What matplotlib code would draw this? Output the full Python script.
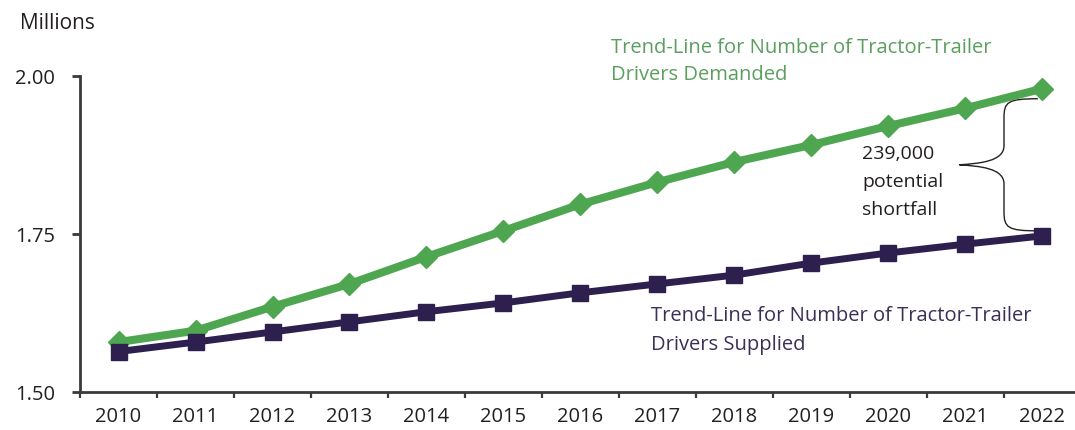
import matplotlib
matplotlib.use("Agg")
import matplotlib.pyplot as plt
from matplotlib.path import Path
from matplotlib.patches import PathPatch
import numpy as np

years = ["2010", "2011", "2012", "2013", "2014", "2015", "2016",
         "2017", "2018", "2019", "2020", "2021", "2022"]
demanded = [1.579, 1.597, 1.635, 1.671, 1.714, 1.755, 1.797,
            1.832, 1.864, 1.891, 1.921, 1.949, 1.980]
supplied = [1.564, 1.579, 1.595, 1.611, 1.627, 1.641, 1.657,
            1.671, 1.685, 1.704, 1.720, 1.734, 1.747]
y_ticks = [1.50, 1.75, 2.00]
y_tick_labels = ["1.50", "1.75", "2.00"]
demanded_label = "Trend-Line for Number of Tractor-Trailer\nDrivers Demanded"
supplied_label = "Trend-Line for Number of Tractor-Trailer\nDrivers Supplied"
shortfall_label = "239,000\npotential\nshortfall"
unit_label = "Millions"

plt.rcParams['font.family'] = ['Open Sans', 'DejaVu Sans']

GREEN = "#4ea651"
GREEN_TXT = "#5a9f5e"
PURPLE = "#2d1f4e"
PURPLE_TXT = "#3b2f57"
AXIS = "#3a3a3a"
TXT = "#231f20"

W, H = 1075, 431
fig = plt.figure(figsize=(W / 100, H / 100), dpi=100)
ax = fig.add_axes([80 / W, 38 / H, 1001 / W, 316 / H])

x = np.arange(len(years))
ax.plot(x, demanded, color=GREEN, lw=5.8, marker='D', ms=11,
        mec=GREEN, mfc=GREEN, zorder=3, solid_joinstyle='round')
ax.plot(x, supplied, color=PURPLE, lw=5.0, marker='s', ms=11,
        mec=PURPLE, mfc=PURPLE, zorder=4)

ax.set_xlim(-0.5, len(years) - 0.5)
ax.set_ylim(y_ticks[0], y_ticks[-1])

for s in ['top', 'right']:
    ax.spines[s].set_visible(False)
for s in ['left', 'bottom']:
    ax.spines[s].set_color(AXIS)
    ax.spines[s].set_linewidth(2.0)

ax.set_yticks(y_ticks)
ax.set_yticklabels(y_tick_labels)
ax.tick_params(axis='y', direction='out', length=6, width=2.0,
               color=AXIS, pad=12, labelsize=14.5, labelcolor=TXT)

ax.set_xticks(np.arange(len(years)) - 0.5)
ax.set_xticklabels([])
ax.tick_params(axis='x', which='major', direction='out', length=4,
               width=1.6, color=AXIS)
ax.set_xticks(x, minor=True)
ax.set_xticklabels(years, minor=True)
ax.tick_params(axis='x', which='minor', length=0, pad=10,
               labelsize=14.5, labelcolor=TXT)

fig.text(20 / W, 1 - 29 / H, unit_label, fontsize=15, color=TXT,
         va='baseline', ha='left')

ax.text(6.4, 2.062, demanded_label, fontsize=14.5, color=GREEN_TXT,
        ha='left', va='top', linespacing=1.5, clip_on=False)
ax.text(6.92, 1.638, supplied_label, fontsize=14.5, color=PURPLE_TXT,
        ha='left', va='top', linespacing=1.6)

# curly brace between final values
top = demanded[-1] - 0.016
bot = supplied[-1] + 0.008
mid = (top + bot) / 2
xe, xv, xt = len(years) - 1 - 0.06, len(years) - 1 - 0.5, len(years) - 1 - 1.08
verts = [
    (xe, top),
    (xv + 0.05, top), (xv, top - 0.005), (xv, top - 0.03),
    (xv, mid + 0.03),
    (xv, mid + 0.005), (xt + 0.25, mid + 0.002), (xt, mid),
    (xt + 0.25, mid - 0.002), (xv, mid - 0.005), (xv, mid - 0.03),
    (xv, bot + 0.03),
    (xv, bot + 0.005), (xv + 0.05, bot), (xe, bot),
]
codes = [Path.MOVETO,
         Path.CURVE4, Path.CURVE4, Path.CURVE4,
         Path.LINETO,
         Path.CURVE4, Path.CURVE4, Path.CURVE4,
         Path.CURVE4, Path.CURVE4, Path.CURVE4,
         Path.LINETO,
         Path.CURVE4, Path.CURVE4, Path.CURVE4]
ax.add_patch(PathPatch(Path(verts, codes), fill=False, ec="#222222",
                       lw=1.0, zorder=2))

ax.text(9.66, 1.892, shortfall_label, fontsize=14, color=TXT,
        ha='left', va='top', linespacing=1.7)

fig.savefig("out.png", dpi=100, facecolor='white')
